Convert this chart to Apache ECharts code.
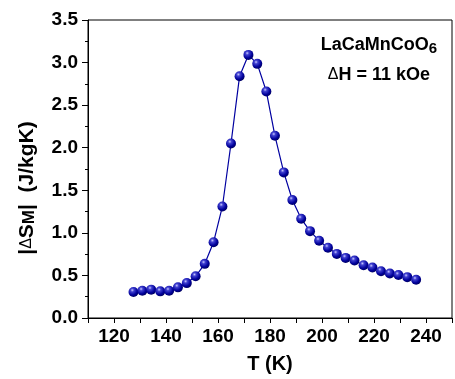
<!DOCTYPE html>
<html>
<head>
<meta charset="utf-8">
<script src="https://cdn.jsdelivr.net/npm/echarts@6/dist/echarts.min.js"></script>
<style>
  html, body { margin: 0; padding: 0; background: #fff; }
  #chart { width: 455px; height: 379px; }
</style>
</head>
<body>
<div id="chart"></div>
<script>
const temps = [127.5, 130.9, 134.3, 137.8, 141.2, 144.6, 148.0, 151.4, 154.9, 158.3, 161.7,
  165.0, 168.3, 171.7, 175.1, 178.6, 181.9, 185.3, 188.6, 192.0, 195.4, 198.9, 202.3,
  205.7, 209.1, 212.5, 216.0, 219.4, 222.7, 226.1, 229.4, 232.8, 236.2]
const deltaS = [0.306, 0.32, 0.333, 0.313, 0.32, 0.36, 0.41, 0.49, 0.636, 0.89, 1.31,
  2.05, 2.84, 3.09, 2.985, 2.66, 2.14, 1.71, 1.386, 1.165, 1.02, 0.908, 0.826,
  0.753, 0.706, 0.675, 0.62, 0.593, 0.55, 0.523, 0.504, 0.48, 0.449]
const xTicks = [120, 140, 160, 180, 200, 220, 240]

const font = 'Liberation Sans, Arial, sans-serif'
const chart = echarts.init(document.getElementById('chart'))

// shaded ball marker
const sphere = new echarts.graphic.RadialGradient(0.38, 0.32, 0.7, [
  { offset: 0, color: '#c8c8ff' },
  { offset: 0.25, color: '#4040d0' },
  { offset: 0.7, color: '#00009a' },
  { offset: 1, color: '#000060' }
])

chart.setOption({
  animation: false,
  grid: {
    left: 88, top: 20, width: 372, height: 300.5,
    show: true, borderColor: '#000', borderWidth: 1
  },
  xAxis: {
    type: 'value', min: 110, max: 250, interval: 10,
    name: 'T (K)', nameLocation: 'middle', nameGap: 36,
    nameTextStyle: { fontFamily: font, fontWeight: 'bold', fontSize: 20, color: '#000' },
    axisLine: { lineStyle: { color: '#000', width: 1 } },
    axisTick: { show: true, length: 5, lineStyle: { color: '#000' } },
    splitLine: { show: false },
    axisLabel: {
      fontFamily: font, fontWeight: 'bold', fontSize: 19, color: '#000', margin: 9,
      formatter: v => xTicks.includes(v) ? String(v) : ''
    }
  },
  yAxis: {
    type: 'value', min: 0, max: 3.5, interval: 0.5,
    axisLine: { show: true, lineStyle: { color: '#000', width: 1 } },
    axisTick: { show: true, length: 6, lineStyle: { color: '#000' } },
    minorTick: { show: true, splitNumber: 2, length: 3, lineStyle: { color: '#000' } },
    splitLine: { show: false },
    axisLabel: {
      fontFamily: font, fontWeight: 'bold', fontSize: 19, color: '#000', margin: 10,
      formatter: v => v.toFixed(1)
    }
  },
  graphic: [
    {
      type: 'text', x: 27, y: 188, rotation: Math.PI / 2,
      style: {
        text: '|{d|Δ}S{sub|M}|  (J/kgK)', fontFamily: font, fontWeight: 'bold', fontSize: 21, fill: '#000',
        align: 'center', verticalAlign: 'middle',
        rich: {
          d: { fontFamily: font, fontWeight: 'normal', fontSize: 16, fill: '#000' },
          sub: { fontFamily: font, fontWeight: 'bold', fontSize: 17, fill: '#000', padding: [5, 0, 0, 0] }
        }
      }
    },
    {
      type: 'text', x: 379, y: 45,
      style: {
        text: 'LaCaMnCoO{sub|6}', fontFamily: font, fontWeight: 'bold', fontSize: 18, fill: '#000',
        align: 'center', verticalAlign: 'middle',
        rich: { sub: { fontFamily: font, fontWeight: 'bold', fontSize: 15, fill: '#000', padding: [8, 0, 0, 0] } }
      }
    },
    {
      type: 'text', x: 379, y: 75,
      style: {
        text: '{d|Δ}H = 11 kOe', fontFamily: font, fontWeight: 'bold', fontSize: 18, fill: '#000',
        align: 'center', verticalAlign: 'middle',
        rich: { d: { fontFamily: font, fontWeight: 'normal', fontSize: 16, fill: '#000' } }
      }
    }
  ],
  series: [{
    type: 'line',
    data: temps.map((t, i) => [t, deltaS[i]]),
    symbol: 'circle', symbolSize: 10,
    lineStyle: { color: '#0000a0', width: 1.2 },
    itemStyle: { color: sphere, borderWidth: 0 }
  }]
})
</script>
</body>
</html>
